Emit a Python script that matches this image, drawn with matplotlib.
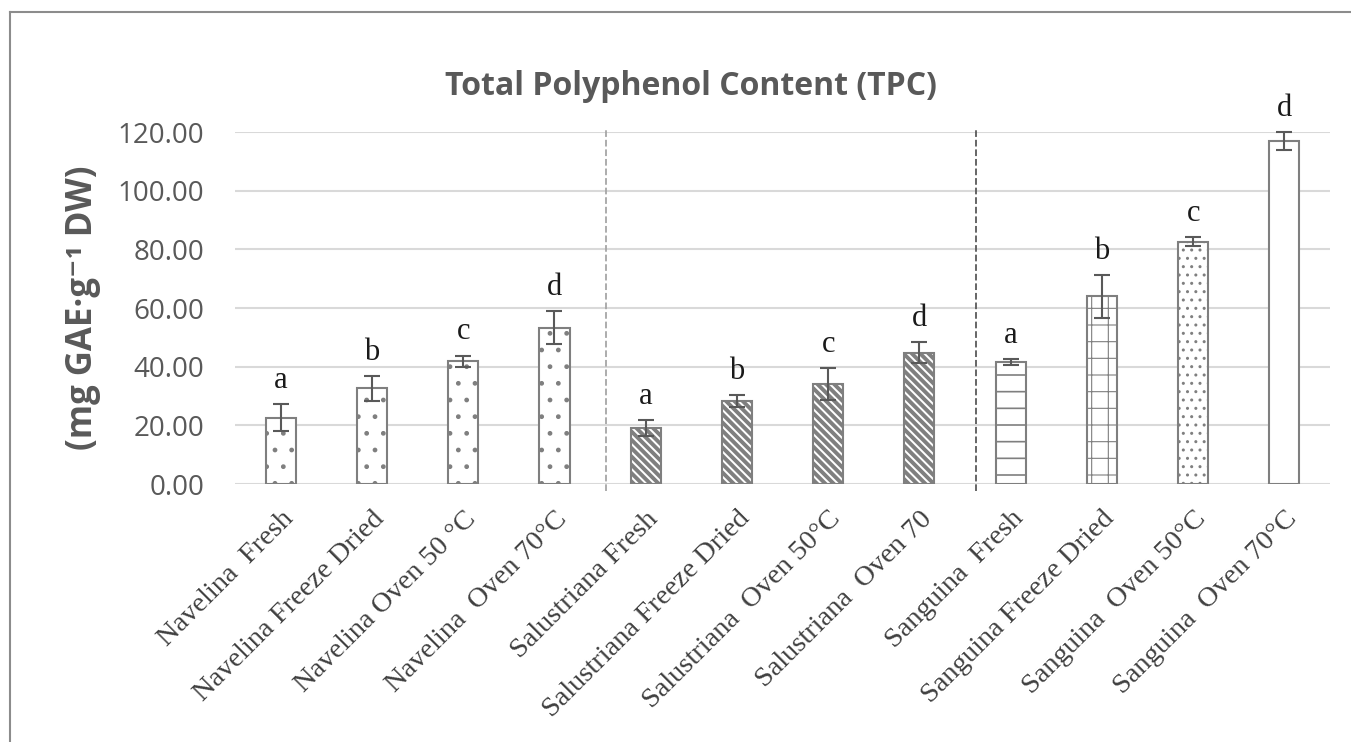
import numpy as np
import matplotlib
matplotlib.use('Agg')
import matplotlib.pyplot as plt
from matplotlib.lines import Line2D

# data
categories = ['Navelina  Fresh', 'Navelina Freeze Dried', 'Navelina Oven 50 °C', 'Navelina  Oven 70°C',
              'Salustriana Fresh', 'Salustriana Freeze Dried', 'Salustriana  Oven 50°C', 'Salustriana  Oven 70',
              'Sanguina  Fresh', 'Sanguina Freeze Dried', 'Sanguina  Oven 50°C', 'Sanguina  Oven 70°C']
tpc = [22.6, 32.6, 41.8, 53.3,
       19.0, 28.4, 34.1, 44.8,
       41.7, 64.0, 82.6, 117.0]
tpc_err = [4.7, 4.2, 2.0, 5.7,
           2.8, 2.0, 5.4, 3.5,
           1.0, 7.3, 1.6, 3.1]
letters = ['a', 'b', 'c', 'd'] * 3
hatches = ['.', '.', '.', '.',
           '\\\\\\\\', '\\\\\\\\', '\\\\\\\\', '\\\\\\\\',
           '-', '+', '..', '']
hatch_lw = [1.0] * 4 + [2.8] * 4 + [1.2, 0.8, 1.0, 1.0]
yticks = [0, 20, 40, 60, 80, 100, 120]

grey = '#595959'

fig = plt.figure(figsize=(13.51, 7.42), dpi=100)
ax = fig.add_axes([0.174, 0.3477, 0.8105, 0.4744])

x = np.arange(len(categories))
for i in range(len(categories)):
    with plt.rc_context({'hatch.linewidth': hatch_lw[i]}):
        b = ax.bar(x[i], tpc[i], width=0.33, color='white', edgecolor='#7f7f7f',
                   linewidth=1.5, hatch=hatches[i], zorder=3)
    for p in b:
        if hasattr(p, 'set_hatch_linewidth'):
            p.set_hatch_linewidth(hatch_lw[i])
ax.errorbar(x, tpc, yerr=tpc_err, fmt='none', ecolor=grey, elinewidth=1.5,
            capsize=6, capthick=1.5, zorder=4, clip_on=False)
for i in range(len(categories)):
    ax.text(x[i], tpc[i] + tpc_err[i] + 5.5, letters[i], ha='center', va='baseline',
            fontsize=22, family='Liberation Serif', color='#1a1a1a', clip_on=False)

ax.set_xlim(-0.5, len(categories) - 0.5)
ax.set_ylim(0, 120)
ax.set_yticks(yticks)
ax.set_yticklabels(['%.2f' % v for v in yticks], fontsize=20, family='Open Sans', color=grey)
ax.set_xticks(x)
ax.set_xticklabels(categories, rotation=45, ha='right', va='top', rotation_mode='anchor',
                   fontsize=20.5, family='Liberation Serif', color='#404040')
ax.tick_params(axis='y', length=0, pad=22)
ax.tick_params(axis='x', length=0, pad=16)
ax.grid(axis='y', color='#d9d9d9', linewidth=1.5, zorder=0)
for s in ax.spines.values():
    s.set_visible(False)

# group separators
ax.axvline(3.57, ymin=-0.02, ymax=1.01, color='#a6a6a6', linestyle='--', linewidth=1.3, clip_on=False)
ax.axvline(7.62, ymin=-0.02, ymax=1.01, color='#595959', linestyle='--', linewidth=1.3, clip_on=False)

fig.text(691 / 1351, 1 - 95 / 742, 'Total Polyphenol Content (TPC)', fontsize=23, fontweight='bold',
         family='Open Sans', color=grey, ha='center', va='baseline')
ax.set_ylabel('(mg GAE·g⁻¹ DW)', fontsize=25, fontweight='bold', color=grey,
              family=['Open Sans', 'DejaVu Sans'], labelpad=12)

# chart frame
fig.add_artist(Line2D([10 / 1351, 10 / 1351], [0, 1 - 12 / 742], color='#8c8c8c', linewidth=1.5))
fig.add_artist(Line2D([10 / 1351, 1], [1 - 12 / 742, 1 - 12 / 742], color='#8c8c8c', linewidth=1.5))

fig.savefig('out.png', dpi=100)
